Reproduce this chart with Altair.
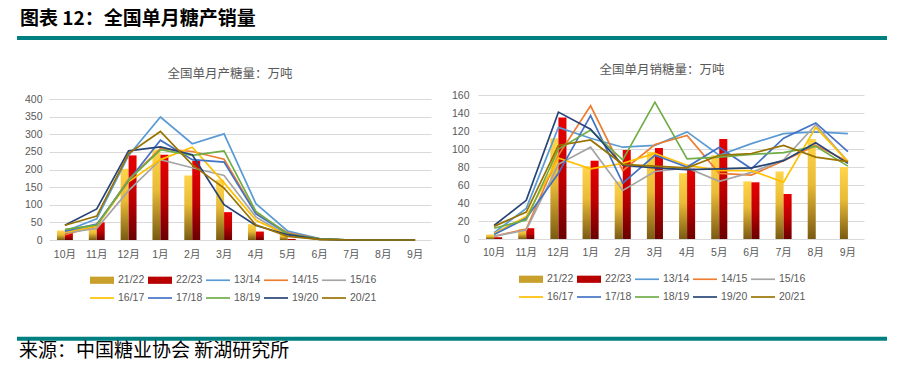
import altair as alt
import pandas as pd
import numpy as np

months = ["10月", "11月", "12月", "1月", "2月", "3月", "4月", "5月", "6月", "7月", "8月", "9月"]
bar_series = ["21/22", "22/23"]
line_series = ["13/14", "14/15", "15/16", "16/17", "17/18", "18/19", "19/20", "20/21"]
all_series = bar_series + line_series

# 全国单月产糖量 (万吨)
prod_2122 = [27, 36, 202, 257, 183, 171, 45, 18, 0, 0, 0, 0]
prod_2223 = [20, 50, 240, 242, 225, 79, 24, 3, None, None, None, None]
prod_lines = {
    "13/14": [25, 60, 240, 349, 273, 301, 103, 25, 4, 0, 0, 0],
    "14/15": [15, 40, 172, 259, 251, 229, 76, 20, 3, 0, 0, 0],
    "15/16": [20, 33, 140, 228, 205, 183, 65, 12, 2, 0, 0, 0],
    "16/17": [22, 40, 165, 228, 263, 162, 56, 14, 2, 0, 0, 0],
    "17/18": [25, 45, 168, 283, 228, 221, 74, 17, 3, 0, 0, 0],
    "18/19": [30, 42, 170, 256, 240, 253, 81, 17, 3, 0, 0, 0],
    "19/20": [42, 88, 253, 264, 242, 100, 41, 15, 2, 0, 0, 0],
    "20/21": [42, 68, 245, 308, 213, 147, 43, 10, 2, 0, 0, 0],
}

# 全国单月销糖量 (万吨)
sale_2122 = [5, 11, 112, 81, 64, 97, 73, 93, 64, 75, 111, 80]
sale_2223 = [2, 12, 135, 87, 99, 101, 78, 111, 63, 50, None, None]
sale_lines = {
    "13/14": [7, 34, 124, 112, 102, 104, 119, 93, 106, 117, 119, 117],
    "14/15": [3, 11, 93, 148, 76, 105, 115, 73, 71, 87, 104, 86],
    "15/16": [3, 10, 83, 102, 54, 75, 79, 64, 74, 88, 127, 86],
    "16/17": [6, 25, 90, 78, 84, 95, 82, 76, 76, 63, 124, 86],
    "17/18": [5, 23, 73, 137, 62, 93, 80, 102, 78, 112, 129, 97],
    "18/19": [12, 21, 100, 121, 88, 152, 89, 91, 94, 96, 103, 81],
    "19/20": [15, 43, 141, 122, 82, 79, 77, 78, 79, 87, 107, 84],
    "20/21": [14, 30, 104, 110, 83, 81, 79, 93, 95, 104, 91, 86],
}

line_colors = ["#5B9BD5", "#ED7D31", "#A5A5A5", "#FFC000", "#4472C4", "#70AD47", "#264478", "#997300"]
legend_colors = ["#C9A02C", "#B80000"] + line_colors
bar_shape = "M-1,-0.3H1V0.3H-1Z"
line_shape = "M-1,-0.07H1V0.07H-1Z"
legend_shapes = [bar_shape, bar_shape] + [line_shape] * len(line_series)

grad_yellow = alt.Gradient(
    gradient="linear", x1=0, y1=0, x2=0, y2=1,
    stops=[alt.GradientStop(color="#FFD54A", offset=0),
           alt.GradientStop(color="#E9BB37", offset=0.45),
           alt.GradientStop(color="#7A5A12", offset=1)])
grad_red = alt.Gradient(
    gradient="linear", x1=0, y1=0, x2=0, y2=1,
    stops=[alt.GradientStop(color="#E80000", offset=0),
           alt.GradientStop(color="#C00000", offset=0.5),
           alt.GradientStop(color="#6A0000", offset=1)])

LABEL_FONT = "Liberation Sans, Noto Sans CJK SC"
CJK_FONT = "Noto Sans CJK SC"
GRAY = "#595959"


def bars_df(a, b):
    rows = []
    for s, vals in zip(bar_series, [a, b]):
        for m, v in zip(months, vals):
            rows.append({"month": m, "series": s, "value": np.nan if v is None else v})
    return pd.DataFrame(rows)


def lines_df(d):
    rows = []
    for s in line_series:
        for m, v in zip(months, d[s]):
            rows.append({"month": m, "series": s, "value": v})
    return pd.DataFrame(rows)


def panel(df_b, df_l, ymax, ystep, width, height, yrange, ylabpad, subtitle, sub_x, sub_y, leg_y, extras=None):
    x_enc = alt.X("month:N", sort=months,
                  scale=alt.Scale(domain=months, paddingInner=0.5, paddingOuter=0.25),
                  axis=alt.Axis(title=None, labelAngle=0, domain=False, ticks=False, grid=False,
                                labelPadding=8, labelColor=GRAY, labelFontSize=10.5, labelFont=LABEL_FONT))
    y_enc = alt.Y("value:Q",
                  scale=alt.Scale(domain=[0, ymax], range=yrange, nice=False, zero=True),
                  axis=alt.Axis(title=None, values=list(range(0, ymax + 1, ystep)), domain=False, ticks=False,
                                grid=True, gridColor="#D9D9D9", gridWidth=1, labelPadding=ylabpad,
                                labelColor=GRAY, labelFontSize=10.5, labelFont=LABEL_FONT))
    xoff = alt.XOffset("series:N", scale=alt.Scale(domain=bar_series, paddingInner=0, paddingOuter=0))

    base_b = alt.Chart(df_b)
    bar_a = base_b.transform_filter(alt.datum.series == "21/22").mark_bar(fill=grad_yellow).encode(
        x=x_enc, xOffset=xoff, y=y_enc)
    bar_b = base_b.transform_filter(alt.datum.series == "22/23").mark_bar(fill=grad_red).encode(
        x=x_enc, xOffset=xoff, y=y_enc)

    lines = alt.Chart(df_l).mark_line(strokeWidth=1.7).encode(
        x=x_enc, y=y_enc,
        stroke=alt.Stroke("series:N", scale=alt.Scale(domain=line_series, range=line_colors), legend=None),
    )

    leg = alt.Legend(orient="none", legendX=41, legendY=leg_y, direction="horizontal", columns=5,
                     title=None, symbolSize=576, symbolStrokeWidth=0, symbolOpacity=1,
                     labelFontSize=10.5, labelFont=LABEL_FONT, labelColor=GRAY, labelOffset=4,
                     columnPadding=3, rowPadding=0)
    legend_layer = alt.Chart(pd.DataFrame({"series": all_series})).transform_filter("false").mark_point(
        filled=True, opacity=1).encode(
        color=alt.Color("series:N", scale=alt.Scale(domain=all_series, range=legend_colors), legend=leg),
        shape=alt.Shape("series:N", scale=alt.Scale(domain=all_series, range=legend_shapes), legend=leg),
    )

    one = pd.DataFrame({"k": [0]})
    sub = alt.Chart(one).mark_text(font=CJK_FONT, fontSize=12.5, color=GRAY, align="center",
                                   baseline="middle").encode(
        x=alt.value(sub_x), y=alt.value(sub_y), text=alt.value(subtitle))

    layers = [bar_a, bar_b, lines, legend_layer, sub]
    if extras:
        layers += extras
    return alt.layer(*layers).properties(width=width, height=height)


one = pd.DataFrame({"k": [0]})
title_txt = alt.Chart(one).mark_text(font=CJK_FONT, fontSize=19, fontWeight="bold", color="#000000",
                                     align="left", baseline="top").encode(
    x=alt.value(-29), y=alt.value(-85), text=alt.value("图表 12：全国单月糖产销量"))
rule_top = alt.Chart(one).mark_rule(color="#008080", strokeWidth=4).encode(
    x=alt.value(-32), x2=alt.value(838), y=alt.value(-57))
rule_bot = alt.Chart(one).mark_rule(color="#008080", strokeWidth=4).encode(
    x=alt.value(-32), x2=alt.value(838), y=alt.value(243.7))
source_txt = alt.Chart(one).mark_text(font=CJK_FONT, fontSize=19, color="#000000",
                                      align="left", baseline="middle").encode(
    x=alt.value(-30), y=alt.value(256), text=alt.value("来源：中国糖业协会 新湖研究所"))

left = panel(bars_df(prod_2122, prod_2223), lines_df(prod_lines), 400, 50, 382, 146, [145, 4], 7,
             "全国单月产糖量：万吨", 181, -21, 173, extras=[title_txt, rule_top, rule_bot, source_txt])
right = panel(bars_df(sale_2122, sale_2223), lines_df(sale_lines), 160, 20, 386, 144, [144, 0], 9,
              "全国单月销糖量：万吨", 184, -25, 172)

chart = alt.hconcat(left, right, spacing=47, bounds="flush").resolve_scale(
    color="independent", shape="independent", stroke="independent", x="independent", y="independent",
    xOffset="independent").resolve_legend(color="independent", shape="independent").properties(
    padding={"left": 7, "top": 2, "right": 5, "bottom": 5}, background="white"
).configure_view(stroke=None)

chart.save("out.html", embed_options={"renderer": "svg", "actions": False})
